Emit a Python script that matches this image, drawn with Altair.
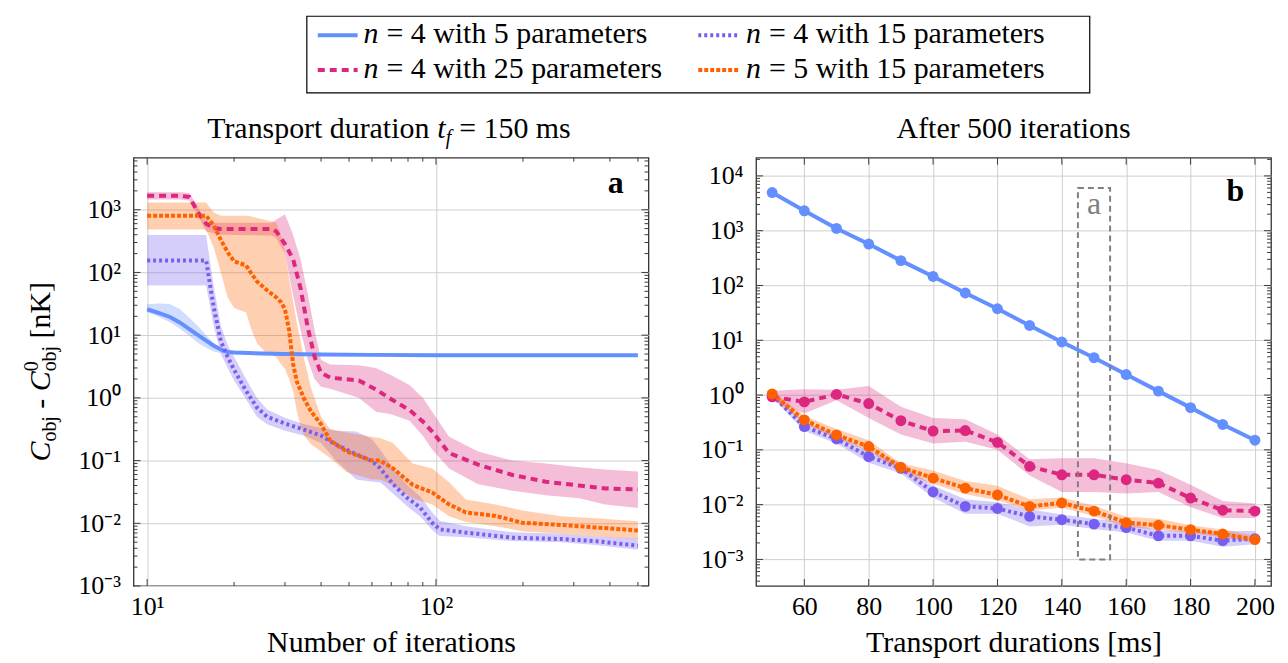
import altair as alt
import pandas as pd

FONT = "Liberation Serif"
FS = 30
FS_TICK = 26
FS_SUB = 20
TICK_COLOR = "#3a3a3a"
GRID_COLOR = "#cfcfcf"

SERIES = ["n = 4 with 5 parameters", "n = 4 with 15 parameters",
          "n = 4 with 25 parameters", "n = 5 with 15 parameters"]
COLORS = ["#648FFF", "#785EF0", "#DC267F", "#FE6100"]
DASHES = [None, [3, 3], [7, 5], [4, 2]]

# ---------------- panel a : transport duration 150 ms, vs iterations ----------------
a_p5_it = [10, 11, 12, 13, 14, 15, 16, 17, 18, 19, 20, 25, 30, 40, 60, 100, 200, 500]
a_p5_y = [25.9, 22.5, 19.5, 15.8, 12.5, 10.0, 8.2, 6.8, 5.9, 5.4, 5.3, 5.1, 5.0, 4.9, 4.85, 4.8, 4.8, 4.8]
a_p5_hi = [31, 32, 31.5, 26, 19, 14, 10, 7.5, 6.2, 5.6, 5.4, 5.2, 5.1, 5.0, 4.95, 4.9, 4.9, 4.9]
a_p5_lo = [23.5, 19.5, 16, 12.5, 9.8, 7.5, 6.3, 5.5, 5.2, 5.1, 5.1, 4.95, 4.85, 4.75, 4.7, 4.7, 4.7, 4.7]

a_p15_it = [10, 16, 17, 18, 19, 20, 22, 24, 26, 30, 35, 40, 45, 53, 60, 64, 71, 79, 88, 97,
            103, 127, 184, 272, 356, 500]
a_p15_y = [155, 155, 28, 8, 4.5, 2.8, 1.3, 0.7, 0.5, 0.39, 0.31, 0.25, 0.18, 0.126, 0.098, 0.076,
           0.042, 0.026, 0.018, 0.0102, 0.008, 0.0071, 0.0059, 0.0056, 0.0052, 0.0044]
a_p15_hi = [395, 395, 60, 14, 7, 4.5, 2.0, 1.0, 0.65, 0.48, 0.38, 0.33, 0.3, 0.29, 0.22, 0.15,
            0.075, 0.042, 0.027, 0.015, 0.011, 0.009, 0.0072, 0.0068, 0.0062, 0.0057]
a_p15_lo = [62, 62, 14, 5, 3.0, 1.9, 0.95, 0.5, 0.38, 0.3, 0.25, 0.19, 0.1, 0.05, 0.046, 0.045,
            0.03, 0.019, 0.013, 0.0078, 0.0063, 0.006, 0.0052, 0.005, 0.0045, 0.0038]

a_p25_it = [10, 13, 14, 15, 16, 17, 18, 27, 28, 30, 32, 34, 36, 38, 40, 43, 54, 62, 70, 81,
            90, 97, 111, 140, 184, 240, 313, 385, 500]
a_p25_y = [1670, 1670, 1600, 900, 600, 510, 492, 492, 450, 284, 164, 55, 13, 4.5, 2.5, 2.1, 1.9,
           1.36, 0.95, 0.64, 0.42, 0.29, 0.132, 0.086, 0.059, 0.046, 0.04, 0.036, 0.0346]
a_p25_hi = [1900, 1900, 1850, 1100, 650, 620, 620, 620, 700, 850, 400, 160, 45, 12, 4.0, 3.4, 3.3,
            3.0, 2.3, 1.6, 1.0, 0.6, 0.24, 0.14, 0.1, 0.09, 0.078, 0.072, 0.067]
a_p25_lo = [1450, 1450, 1400, 800, 450, 420, 400, 390, 350, 200, 43, 12, 4, 2.0, 1.5, 1.4, 1.0,
            0.6, 0.55, 0.43, 0.25, 0.15, 0.075, 0.042, 0.033, 0.028, 0.025, 0.02, 0.0175]

a_n5_it = [10, 16, 17, 18, 19, 20, 22, 23, 24, 26, 28, 29, 30, 31, 32, 33, 34, 35, 37, 40,
           43, 49, 60, 64, 71, 83, 97, 111, 127, 161, 199, 272, 356, 500]
a_n5_y = [803, 803, 560, 330, 210, 150, 130, 95, 72, 52, 40, 34, 26, 12, 3.5, 1.8, 1.3, 0.95, 0.6,
          0.38, 0.21, 0.14, 0.1, 0.1, 0.075, 0.041, 0.031, 0.02, 0.0149, 0.0131, 0.0102, 0.0094,
          0.0086, 0.0077]
a_n5_hi = [1310, 1310, 900, 800, 800, 800, 800, 780, 740, 680, 620, 400, 210, 80, 35, 15, 8, 4,
           1.4, 0.5, 0.32, 0.28, 0.24, 0.23, 0.19, 0.09, 0.075, 0.045, 0.024, 0.02, 0.016, 0.013,
           0.012, 0.0108]
a_n5_lo = [482, 482, 250, 100, 40, 27, 23, 12, 7.4, 5, 4.5, 3.5, 2.9, 2.0, 1.27, 0.6, 0.35, 0.25,
           0.18, 0.14, 0.11, 0.066, 0.05, 0.05, 0.04, 0.025, 0.02, 0.013, 0.0105, 0.009, 0.0075,
           0.0068, 0.0062, 0.0056]

# ---------------- panel b : after 500 iterations, vs transport duration ----------------
durations = [50, 60, 70, 80, 90, 100, 110, 120, 130, 140, 150, 160, 170, 180, 190, 200]
b_p5_y = [4970, 2310, 1100, 570, 284, 146, 73, 37.6, 18.6, 9.3, 4.8, 2.37, 1.18, 0.59, 0.29, 0.15]
b_p15_y = [1.0, 0.265, 0.158, 0.0755, 0.046, 0.017, 0.0093, 0.0085, 0.0061, 0.0053, 0.0044,
           0.0038, 0.0027, 0.0027, 0.0022, 0.0024]
b_p15_hi = [1.15, 0.32, 0.19, 0.095, 0.058, 0.022, 0.0125, 0.011, 0.0082, 0.0066, 0.0055,
            0.0047, 0.0034, 0.0033, 0.0033, 0.0033]
b_p15_lo = [0.9, 0.22, 0.13, 0.058, 0.037, 0.0135, 0.0068, 0.0068, 0.004, 0.0043, 0.0036,
            0.0031, 0.0022, 0.0022, 0.0017, 0.0019]
b_p25_y = [0.93, 0.75, 1.03, 0.70, 0.34, 0.22, 0.225, 0.137, 0.05, 0.035, 0.035, 0.0285, 0.0247,
           0.0132, 0.0079, 0.0076]
b_p25_hi = [1.2, 1.28, 1.25, 1.46, 0.61, 0.38, 0.36, 0.19, 0.067, 0.07, 0.07, 0.057, 0.043,
            0.023, 0.0116, 0.0105]
b_p25_lo = [0.8, 0.46, 0.8, 0.38, 0.19, 0.13, 0.14, 0.1, 0.034, 0.017, 0.017, 0.016, 0.017,
            0.009, 0.0057, 0.0057]
b_n5_y = [1.05, 0.351, 0.187, 0.115, 0.048, 0.0305, 0.02, 0.015, 0.0093, 0.0107, 0.0076, 0.0047,
          0.0042, 0.0035, 0.0029, 0.0023]
b_n5_hi = [1.2, 0.42, 0.24, 0.15, 0.057, 0.042, 0.027, 0.022, 0.0125, 0.0135, 0.0095, 0.006,
           0.0055, 0.0042, 0.0035, 0.0027]
b_n5_lo = [0.9, 0.3, 0.16, 0.095, 0.038, 0.024, 0.0155, 0.012, 0.0078, 0.0088, 0.0062, 0.0039,
           0.0035, 0.003, 0.0025, 0.002]

# zoom window of panel a drawn in panel b
box_x = [145, 155]
box_y = [1e-3, 6000]

W, H = 517, 430
ONE = pd.DataFrame({"k": [0]})

SUP = "['\u207b\u00b3','\u207b\u00b2','\u207b\u00b9','\u2070','\u00b9','\u00b2','\u00b3','\u2074']"
LOGLAB = "'10' + " + SUP + "[round(log(datum.value)/LN10)+3]"

common = dict(grid=True, gridColor=GRID_COLOR, gridWidth=1, ticks=False, tickSize=0, domain=False,
              labelFont=FONT, labelFontSize=FS_TICK, labelColor="black", labelFlush=False,
              labelOverlap=False, titleFont=FONT, titleFontSize=FS, titleFontWeight="normal",
              titleColor="black")

xa_scale = alt.Scale(type="log", domain=[8.97, 544], nice=False)
ya_scale = alt.Scale(type="log", domain=[1e-3, 6760], nice=False)
xb_scale = alt.Scale(type="linear", domain=[45, 205], nice=False, zero=False)
yb_scale = alt.Scale(type="log", domain=[3.27e-4, 2.15e4], nice=False)

ax_xa = alt.Axis(values=[10, 100], labelExpr=LOGLAB, labelPadding=8,
                 title="Number of iterations", titlePadding=8, **common)
ax_ya = alt.Axis(values=[1e-3, 1e-2, 1e-1, 1, 10, 100, 1000], labelExpr=LOGLAB,
                 labelPadding=13, title=None, **common)
ax_xb = alt.Axis(values=[60, 80, 100, 120, 140, 160, 180, 200], labelPadding=8,
                 title="Transport durations [ms]", titlePadding=8, **common)
ax_yb = alt.Axis(values=[1e-3, 1e-2, 1e-1, 1, 10, 100, 1000, 1e4], labelExpr=LOGLAB,
                 labelPadding=13, title=None, **common)


def XA(f):
    return alt.X(f + ":Q", scale=xa_scale, axis=ax_xa)


def YA(f):
    return alt.Y(f + ":Q", scale=ya_scale, axis=ax_ya)


def XB(f):
    return alt.X(f + ":Q", scale=xb_scale, axis=ax_xb)


def YB(f):
    return alt.Y(f + ":Q", scale=yb_scale, axis=ax_yb)


def txt(text, x, y, size=FS, style=None, weight=None, align="left", angle=None,
        color="black"):
    props = dict(text=text, font=FONT, fontSize=size, align=align, baseline="alphabetic",
                 color=color)
    if style is not None:
        props["fontStyle"] = style
    if weight is not None:
        props["fontWeight"] = weight
    if angle is not None:
        props["angle"] = angle
    return alt.Chart(ONE).mark_text(**props).encode(x=alt.value(x), y=alt.value(y))


def line_props(i):
    p = dict(color=COLORS[i], strokeWidth=4)
    if DASHES[i] is not None:
        p["strokeDash"] = DASHES[i]
    return p


def ticks_y(vals, length, enc):
    df = pd.DataFrame({"v": vals})
    b = alt.Chart(df).mark_rule(color=TICK_COLOR, strokeWidth=1)
    return [b.encode(y=enc("v"), x=alt.value(0), x2=alt.value(length)),
            b.encode(y=enc("v"), x=alt.value(W - length), x2=alt.value(W))]


def ticks_x(vals, length, enc):
    df = pd.DataFrame({"v": vals})
    b = alt.Chart(df).mark_rule(color=TICK_COLOR, strokeWidth=1)
    return [b.encode(x=enc("v"), y=alt.value(H - length), y2=alt.value(H)),
            b.encode(x=enc("v"), y=alt.value(0), y2=alt.value(length))]


# ---------------- panel a ----------------
a_sets = [(a_p5_it, a_p5_y, a_p5_lo, a_p5_hi), (a_p15_it, a_p15_y, a_p15_lo, a_p15_hi),
          (a_p25_it, a_p25_y, a_p25_lo, a_p25_hi), (a_n5_it, a_n5_y, a_n5_lo, a_n5_hi)]
a_frames = [pd.DataFrame({"x": s[0], "y": s[1], "lo": s[2], "hi": s[3]}) for s in a_sets]

layers_a = []
for i, df in enumerate(a_frames):
    layers_a.append(alt.Chart(df).mark_area(color=COLORS[i], opacity=0.3)
                    .encode(x=XA("x"), y=YA("lo"), y2="hi"))
for i, df in enumerate(a_frames):
    layers_a.append(alt.Chart(df).mark_line(**line_props(i)).encode(x=XA("x"), y=YA("y")))

ya_major = [1e-3, 1e-2, 1e-1, 1, 10, 100, 1000]
ya_minor = [k * 10.0 ** e for e in range(-3, 4) for k in range(2, 10) if k * 10.0 ** e <= 6700]
xa_major = [10, 100]
xa_minor = [20, 30, 40, 50, 60, 70, 80, 90, 200, 300, 400, 500]
layers_a += ticks_y(ya_major, 7, YA) + ticks_y(ya_minor, 4, YA)
layers_a += ticks_x(xa_major, 7, XA) + ticks_x(xa_minor, 4, XA)

# panel label
layers_a.append(txt("a", 492, 35, size=32, weight="bold", align="right"))

# title with subscript
layers_a += [
    txt("Transport duration", 297, -20, align="right"),
    txt("t", 305, -20, style="italic"),
    txt("f", 313.5, -14, size=FS_SUB, style="italic"),
    txt("= 150 ms", 327, -20),
]

# rotated y-axis title: C_obj - C^0_obj [nK]
YX = -84
layers_a += [
    txt("C", YX, 305, style="italic", angle=270),
    txt("obj", YX + 6, 285, size=FS_SUB, angle=270),
    txt("-", YX, 252, angle=270),
    txt("C", YX, 234.5, style="italic", angle=270),
    txt("0", YX - 12, 214.5, size=FS_SUB, angle=270),
    txt("obj", YX + 6, 214.5, size=FS_SUB, angle=270),
    txt("[nK]", YX, 181.5, angle=270),
]

# legend (drawn above both panels)
layers_a.append(alt.Chart(ONE).mark_rect(fill="white", stroke="black", strokeWidth=1.2)
                .encode(x=alt.value(174), x2=alt.value(960), y=alt.value(-142), y2=alt.value(-65)))
leg_cols = [(185, 225, 231), (567, 609, 615)]
leg_rows = [(-123, -115), (-88, -80)]
for i, name in enumerate(SERIES):
    r, c = divmod(i, 2)
    x0, x1, nx = leg_cols[c]
    ly, ty = leg_rows[r]
    layers_a.append(alt.Chart(ONE).mark_rule(**line_props(i))
                    .encode(x=alt.value(x0), x2=alt.value(x1), y=alt.value(ly)))
    layers_a.append(txt("n", nx, ty, style="italic"))
    layers_a.append(txt(name[2:], nx + 23, ty))

left = alt.layer(*layers_a).properties(width=W, height=H)

# ---------------- panel b ----------------
b_frames = [
    pd.DataFrame({"x": durations, "y": b_p5_y}),
    pd.DataFrame({"x": durations, "y": b_p15_y, "lo": b_p15_lo, "hi": b_p15_hi}),
    pd.DataFrame({"x": durations, "y": b_p25_y, "lo": b_p25_lo, "hi": b_p25_hi}),
    pd.DataFrame({"x": durations, "y": b_n5_y, "lo": b_n5_lo, "hi": b_n5_hi}),
]
layers_b = []
for i, df in enumerate(b_frames):
    if "lo" in df:
        layers_b.append(alt.Chart(df).mark_area(color=COLORS[i], opacity=0.3)
                        .encode(x=XB("x"), y=YB("lo"), y2="hi"))
for i, df in enumerate(b_frames):
    layers_b.append(alt.Chart(df).mark_line(**line_props(i)).encode(x=XB("x"), y=YB("y")))
    layers_b.append(alt.Chart(df).mark_circle(color=COLORS[i], size=120, opacity=1)
                    .encode(x=XB("x"), y=YB("y")))

yb_major = [1e-3, 1e-2, 1e-1, 1, 10, 100, 1000, 1e4]
yb_minor = [k * 10.0 ** e for e in range(-4, 5) for k in range(2, 10)
            if 3.3e-4 <= k * 10.0 ** e <= 2.1e4]
xb_major = [60, 80, 100, 120, 140, 160, 180, 200]
layers_b += ticks_y(yb_major, 7, YB) + ticks_y(yb_minor, 4, YB) + ticks_x(xb_major, 7, XB)

box_df = pd.DataFrame({"x0": [box_x[0]], "x1": [box_x[1]], "y0": [box_y[0]], "y1": [box_y[1]]})
layers_b.append(alt.Chart(box_df).mark_rect(fillOpacity=0, stroke="#808080", strokeWidth=2,
                                             strokeDash=[6, 4])
                .encode(x=XB("x0"), x2="x1", y=YB("y0"), y2="y1"))
layers_b.append(alt.Chart(pd.DataFrame({"x": [sum(box_x) / 2]}))
                .mark_text(text="a", font=FONT, fontSize=32, color="#808080", align="center",
                           baseline="alphabetic")
                .encode(x=XB("x"), y=alt.value(57)))
layers_b.append(txt("b", 490, 43, size=32, weight="bold", align="right"))
layers_b.append(txt("After 500 iterations", W / 2, -20, align="center"))

right = alt.layer(*layers_b).properties(width=W, height=H)

chart = (alt.hconcat(left, right, spacing=108, bounds="flush")
         .properties(padding={"left": 13, "top": 5, "right": 5, "bottom": 0})
         .configure(font=FONT)
         .configure_view(stroke="#333333", strokeWidth=1.3))

chart.save("out.html", embed_options={"renderer": "svg", "actions": False})
